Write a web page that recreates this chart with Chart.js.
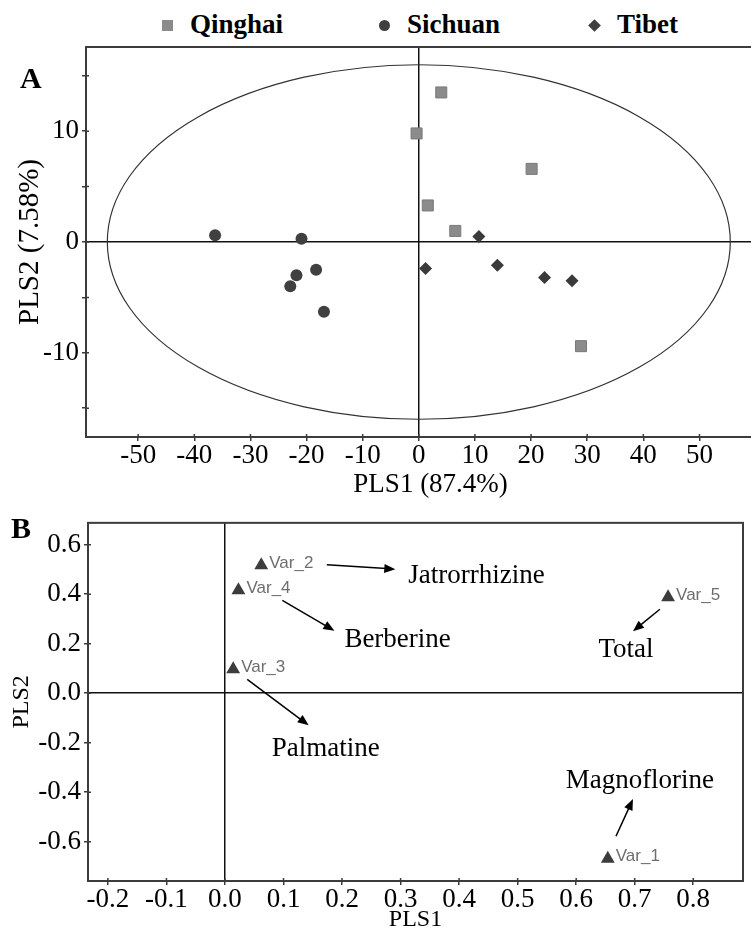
<!DOCTYPE html>
<html>
<head>
<meta charset="utf-8">
<script src="https://cdn.jsdelivr.net/npm/chart.js@4.4.1/dist/chart.umd.min.js"></script>
<style>
  html, body { margin: 0; padding: 0; background: #fff; }
  body { width: 751px; height: 936px; overflow: hidden; position: relative; }
  canvas { display: block; position: absolute; left: 0; }
  #pls-a { top: 0; }
  #pls-b { top: 505px; }
  .legend { position: absolute; font: bold 27px 'Liberation Serif', 'Times New Roman', serif; line-height: 27px; color: #000; top: 11px; }
  .mk { position: absolute; }
</style>
</head>
<body>
<div class="mk" style="left:162px;top:20px;width:11px;height:11px;background:#8b8b8b"></div>
<div class="legend" style="left:190px">Qinghai</div>
<div class="mk" style="left:379px;top:20px;width:11px;height:11px;border-radius:50%;background:#404040"></div>
<div class="legend" style="left:407px">Sichuan</div>
<div class="mk" style="left:590px;top:21px;width:9px;height:9px;transform:rotate(45deg);background:#404040"></div>
<div class="legend" style="left:617px">Tibet</div>

<canvas id="pls-a" width="784" height="505"></canvas>
<canvas id="pls-b" width="751" height="431"></canvas>

<script>
// fonts and colours
const FONT_SERIF = "'Liberation Serif', 'Times New Roman', serif";
const FONT_SANS = "'Liberation Sans', Arial, sans-serif";
const AXIS_COLOR = '#3c3c3c';

// Panel A - PLS scores
const QINGHAI_X = [4.0, -0.4, 20.1, 1.6, 6.5, 28.9];
const QINGHAI_Y = [13.5, 9.8, 6.6, 3.3, 1.0, -9.4];
const SICHUAN_X = [-36.3, -20.9, -21.8, -22.9, -18.3, -16.9];
const SICHUAN_Y = [0.6, 0.3, -3.0, -4.0, -2.5, -6.3];
const TIBET_X = [10.7, 1.2, 14.0, 22.4, 27.3];
const TIBET_Y = [0.5, -2.4, -2.1, -3.2, -3.5];

const A_X_TICKS = [-50, -40, -30, -20, -10, 0, 10, 20, 30, 40, 50];
const A_Y_TICKS = [-15, -10, -5, 0, 5, 10, 15];
const ELLIPSE_RX = 55.5; // Hotelling T2 ellipse semi-axes
const ELLIPSE_RY = 16;

// Panel B - PLS loadings
const VAR_NAMES = ['Var_1', 'Var_2', 'Var_3', 'Var_4', 'Var_5'];
const VAR_X = [0.654, 0.062, 0.014, 0.023, 0.757];
const VAR_Y = [-0.669, 0.517, 0.097, 0.416, 0.387];
const COMPOUNDS = ['Magnoflorine', 'Jatrorrhizine', 'Palmatine', 'Berberine', 'Total'];
const LABEL_X = [0.582, 0.313, 0.080, 0.204, 0.638];
const LABEL_Y = [-0.385, 0.445, -0.254, 0.186, 0.144];
const ARROW_FROM_X = [0.668, 0.174, 0.038, 0.098, 0.743];
const ARROW_FROM_Y = [-0.578, 0.519, 0.056, 0.375, 0.339];
const ARROW_TO_X = [0.697, 0.291, 0.143, 0.187, 0.697];
const ARROW_TO_Y = [-0.428, 0.501, -0.130, 0.252, 0.250];

const B_X_TICKS = [-0.2, -0.1, 0, 0.1, 0.2, 0.3, 0.4, 0.5, 0.6, 0.7, 0.8];
const B_Y_TICKS = [-0.6, -0.4, -0.2, 0, 0.2, 0.4, 0.6];

const zip = (xs, ys) => xs.map((x, i) => ({ x: x, y: ys[i] }));

// only the zero lines are visible, tick marks on every tick
const zeroGrid = {
  color: (c) => (c.tick && c.tick.value === 0 ? '#111' : 'rgba(0,0,0,0)'),
  lineWidth: 1.5,
  tickColor: AXIS_COLOR,
  tickWidth: 1.5,
  tickLength: 4
};

// box around the plot area, inner tick marks and the panel letter
const framePlugin = {
  id: 'frame',
  afterDatasetsDraw(chart, args, opts) {
    const { ctx, chartArea: a, scales } = chart;
    ctx.save();
    ctx.strokeStyle = AXIS_COLOR;
    ctx.lineWidth = 2;
    ctx.strokeRect(a.left, a.top, a.right - a.left, a.bottom - a.top);
    ctx.lineWidth = 1.5;
    ctx.beginPath();
    scales.x.ticks.forEach(t => {
      const px = scales.x.getPixelForValue(t.value);
      ctx.moveTo(px, a.bottom);
      ctx.lineTo(px, a.bottom - 3);
    });
    scales.y.ticks.forEach(t => {
      const py = scales.y.getPixelForValue(t.value);
      ctx.moveTo(a.left, py);
      ctx.lineTo(a.left + 3, py);
    });
    ctx.stroke();
    ctx.fillStyle = '#000';
    ctx.font = 'bold 30px ' + FONT_SERIF;
    ctx.textBaseline = 'alphabetic';
    ctx.textAlign = 'left';
    ctx.fillText(opts.letter, opts.letterX, opts.letterY);
    ctx.restore();
  }
};

const ellipsePlugin = {
  id: 'ellipse',
  beforeDatasetsDraw(chart) {
    const { ctx, chartArea: a, scales: { x, y } } = chart;
    const cx = x.getPixelForValue(0);
    const cy = y.getPixelForValue(0);
    const rx = x.getPixelForValue(ELLIPSE_RX) - cx;
    const ry = cy - y.getPixelForValue(ELLIPSE_RY);
    ctx.save();
    ctx.beginPath();
    ctx.rect(a.left, a.top, a.right - a.left, a.bottom - a.top);
    ctx.clip();
    ctx.beginPath();
    ctx.ellipse(cx, cy, rx, ry, 0, 0, Math.PI * 2);
    ctx.strokeStyle = '#333';
    ctx.lineWidth = 1.2;
    ctx.stroke();
    ctx.restore();
  }
};

function drawArrow(ctx, x0, y0, x1, y1) {
  const ang = Math.atan2(y1 - y0, x1 - x0);
  const len = 11, half = 4.5;
  ctx.beginPath();
  ctx.moveTo(x0, y0);
  ctx.lineTo(x1 - Math.cos(ang) * len * 0.8, y1 - Math.sin(ang) * len * 0.8);
  ctx.stroke();
  ctx.beginPath();
  ctx.moveTo(x1, y1);
  ctx.lineTo(x1 - Math.cos(ang) * len - Math.sin(ang) * half, y1 - Math.sin(ang) * len + Math.cos(ang) * half);
  ctx.lineTo(x1 - Math.cos(ang) * len + Math.sin(ang) * half, y1 - Math.sin(ang) * len - Math.cos(ang) * half);
  ctx.closePath();
  ctx.fill();
}

// variable names, compound names and arrows on the loading plot
const loadingLabels = {
  id: 'loadingLabels',
  afterDatasetsDraw(chart) {
    const { ctx, scales: { x, y } } = chart;
    ctx.save();
    ctx.textAlign = 'left';
    VAR_NAMES.forEach((name, i) => {
      ctx.fillStyle = '#6e6e6e';
      ctx.font = '17px ' + FONT_SANS;
      ctx.textBaseline = 'middle';
      ctx.fillText(name, x.getPixelForValue(VAR_X[i]) + 8, y.getPixelForValue(VAR_Y[i]) - 2);

      ctx.fillStyle = '#000';
      ctx.font = '27px ' + FONT_SERIF;
      ctx.textBaseline = 'alphabetic';
      ctx.fillText(COMPOUNDS[i], x.getPixelForValue(LABEL_X[i]), y.getPixelForValue(LABEL_Y[i]));

      ctx.strokeStyle = '#000';
      ctx.lineWidth = 1.5;
      drawArrow(ctx,
        x.getPixelForValue(ARROW_FROM_X[i]), y.getPixelForValue(ARROW_FROM_Y[i]),
        x.getPixelForValue(ARROW_TO_X[i]), y.getPixelForValue(ARROW_TO_Y[i]));
    });
    ctx.restore();
  }
};

function tickFont(size) {
  return { family: FONT_SERIF, size: size, lineHeight: 1.1 };
}

new Chart(document.getElementById('pls-a'), {
  type: 'scatter',
  data: {
    datasets: [
      { label: 'Qinghai', data: zip(QINGHAI_X, QINGHAI_Y), pointStyle: 'rect', pointRadius: 7.8,
        backgroundColor: '#8b8b8b', borderColor: '#7a7a7a', borderWidth: 1 },
      { label: 'Sichuan', data: zip(SICHUAN_X, SICHUAN_Y), pointStyle: 'circle', pointRadius: 6,
        backgroundColor: '#404040', borderColor: '#404040', borderWidth: 0 },
      { label: 'Tibet', data: zip(TIBET_X, TIBET_Y), pointStyle: 'rectRot', pointRadius: 6.5,
        backgroundColor: '#3a3a3a', borderColor: '#3a3a3a', borderWidth: 0 }
    ]
  },
  options: {
    responsive: false,
    animation: false,
    layout: { padding: { top: 47, left: 0, right: 0, bottom: 0 } },
    plugins: {
      legend: { display: false },
      tooltip: { enabled: false },
      frame: { letter: 'A', letterX: 20, letterY: 88 }
    },
    scales: {
      x: {
        type: 'linear',
        min: -59.3,
        max: 63.5,
        afterBuildTicks: (s) => { s.ticks = A_X_TICKS.map(v => ({ value: v })); },
        afterFit: (s) => { s.height = 68; },
        grid: zeroGrid,
        border: { display: false },
        ticks: { color: '#000', font: tickFont(27), padding: 0, autoSkip: false, maxRotation: 0 },
        title: { display: true, text: 'PLS1 (87.4%)', color: '#000',
                 font: { family: FONT_SERIF, size: 27, lineHeight: 1.2 }, padding: { top: 0, bottom: 4 } }
      },
      y: {
        type: 'linear',
        min: -17.6,
        max: 17.6,
        afterBuildTicks: (s) => { s.ticks = A_Y_TICKS.map(v => ({ value: v })); },
        afterFit: (s) => { s.width = 86; },
        grid: zeroGrid,
        border: { display: false },
        ticks: { color: '#000', font: tickFont(27), padding: 3,
                 callback: (v) => (v % 10 === 0 ? String(v) : '') },
        title: { display: true, text: 'PLS2 (7.58%)', color: '#000',
                 font: { family: FONT_SERIF, size: 29, lineHeight: 1.2 }, padding: { top: 13, bottom: 0 } }
      }
    }
  },
  plugins: [ellipsePlugin, framePlugin]
});

new Chart(document.getElementById('pls-b'), {
  type: 'scatter',
  data: {
    datasets: [{
      label: 'Loadings',
      data: zip(VAR_X, VAR_Y),
      pointStyle: 'triangle',
      pointRadius: 8,
      backgroundColor: '#3c3c3c',
      borderColor: '#3c3c3c',
      borderWidth: 0
    }]
  },
  options: {
    responsive: false,
    animation: false,
    layout: { padding: { top: 6, left: 0, right: 0, bottom: 0 } },
    plugins: {
      legend: { display: false },
      tooltip: { enabled: false },
      frame: { letter: 'B', letterX: 11, letterY: 33 }
    },
    scales: {
      x: {
        type: 'linear',
        min: -0.234,
        max: 0.885,
        afterBuildTicks: (s) => { s.ticks = B_X_TICKS.map(v => ({ value: v })); },
        afterFit: (s) => { s.height = 55; },
        grid: zeroGrid,
        border: { display: false },
        ticks: { color: '#000', font: tickFont(27), padding: 0, autoSkip: false, maxRotation: 0,
                 callback: (v) => v.toFixed(1) },
        title: { display: true, text: 'PLS1', color: '#000',
                 font: { family: FONT_SERIF, size: 24, lineHeight: 1.2 }, padding: { top: 0, bottom: 2 } }
      },
      y: {
        type: 'linear',
        min: -0.759,
        max: 0.688,
        afterBuildTicks: (s) => { s.ticks = B_Y_TICKS.map(v => ({ value: v })); },
        afterFit: (s) => { s.width = 88; },
        grid: zeroGrid,
        border: { display: false },
        ticks: { color: '#000', font: tickFont(27), padding: 3, callback: (v) => v.toFixed(1) },
        title: { display: true, text: 'PLS2', color: '#000',
                 font: { family: FONT_SERIF, size: 24, lineHeight: 1.2 }, padding: { top: 7, bottom: 0 } }
      }
    }
  },
  plugins: [loadingLabels, framePlugin]
});
</script>
</body>
</html>
